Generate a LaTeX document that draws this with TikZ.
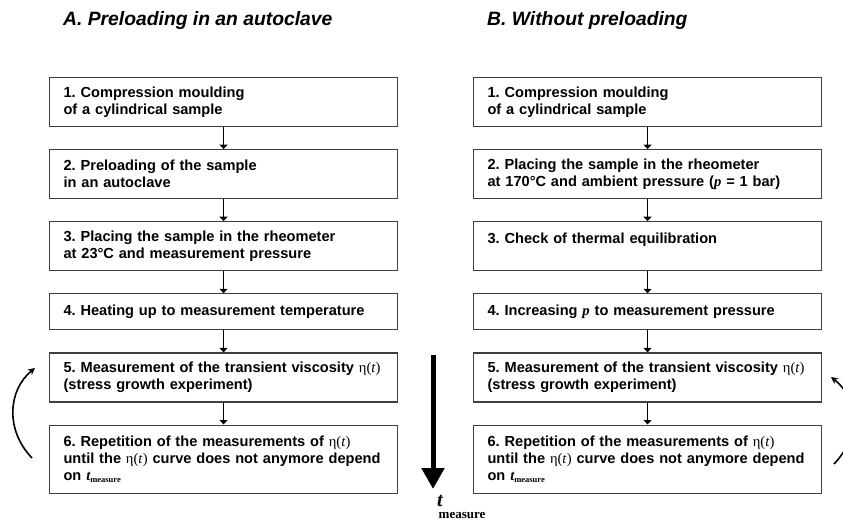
\documentclass[tikz,border=0pt]{standalone}
\usepackage{fontspec}
\setmainfont{Liberation Sans}
\newfontfamily\serifrm{Liberation Serif}
\usetikzlibrary{positioning,arrows.meta}
\frenchspacing

\newcommand{\etat}{{\serifrm\mdseries η(\textit{t})}}
\newcommand{\tmeas}{{\serifrm\bfseries\itshape t}\raisebox{-2.5pt}{\serifrm\bfseries\fontsize{8.5}{8.5}\selectfont measure}}
\newcommand{\pvar}{{\serifrm\bfseries\itshape p}}

\tikzset{
  stepbox/.style={draw=black!75, line width=1.1pt, text width=320pt,
    inner xsep=14pt, inner ysep=0pt, align=left, minimum height=49pt,
    font=\bfseries\fontsize{14.6}{17}\selectfont},
  flow/.style={-{Triangle[length=4.5pt,width=8pt]}, line width=0.9pt},
  loop/.style={-{Stealth[length=7pt,width=7pt]}, line width=1.6pt},
  colhead/.style={anchor=base west, inner sep=0pt, font=\bfseries\itshape\fontsize{19.3}{22}\selectfont},
}

\begin{document}
\begin{tikzpicture}[x=1pt, y=-1pt, node distance=22pt]
    \useasboundingbox (0,0) rectangle (843,521);

    % column titles
    \node[colhead] (headA) at (63,26) {A. Preloading in an autoclave};
    \node[colhead] (headB) at (487,26) {B. Without preloading};

    % A: preloading in an autoclave
    \node[stepbox, anchor=north west] (a1) at (49,77) {1. Compression moulding\\of a cylindrical sample};
    \node[stepbox, below=of a1] (a2) {2. Preloading of the sample\\in an autoclave};
    \node[stepbox, below=of a2] (a3) {3. Placing the sample in the rheometer\\at 23°C and measurement pressure};
    \node[stepbox, below=of a3, minimum height=36pt] (a4) {4. Heating up to measurement temperature};
    \node[stepbox, below=of a4] (a5) {\mbox{5. Measurement of the transient viscosity \etat}\\(stress growth experiment)};
    \node[stepbox, below=of a5, minimum height=68pt] (a6) {6. Repetition of the measurements of \etat\\\mbox{until the \etat{} curve does not anymore depend}\\on \tmeas};

    % B: without preloading
    \node[stepbox, anchor=north west] (b1) at (473,77) {1. Compression moulding\\of a cylindrical sample};
    \node[stepbox, below=of b1] (b2) {2. Placing the sample in the rheometer\\\mbox{at 170°C and ambient pressure (\pvar{} = 1 bar)}};
    \node[stepbox, below=of b2] (b3) {3. Check of thermal equilibration\\\mbox{}};
    \node[stepbox, below=of b3, minimum height=36pt] (b4) {4. Increasing \pvar{} to measurement pressure};
    \node[stepbox, below=of b4] (b5) {\mbox{5. Measurement of the transient viscosity \etat}\\(stress growth experiment)};
    \node[stepbox, below=of b5, minimum height=68pt] (b6) {6. Repetition of the measurements of \etat\\\mbox{until the \etat{} curve does not anymore depend}\\on \tmeas};

    % step arrows
    \draw[flow] (a1) -- (a2);
    \draw[flow] (a2) -- (a3);
    \draw[flow] (a3) -- (a4);
    \draw[flow] (a4) -- (a5);
    \draw[flow] (a5) -- (a6);
    \draw[flow] (b1) -- (b2);
    \draw[flow] (b2) -- (b3);
    \draw[flow] (b3) -- (b4);
    \draw[flow] (b4) -- (b5);
    \draw[flow] (b5) -- (b6);

    % time axis
    \coordinate (tstart) at (433,355);
    \coordinate (tend) at (433,489);
    \draw[line width=5pt, -{Triangle[length=21pt,width=22pt]}] (tstart) -- (tend);
    \node[anchor=base west, inner sep=0pt] (tlabel) at (437,506)
      {\rlap{\hspace{1.5pt}\raisebox{-12pt}{\serifrm\bfseries\fontsize{13}{13}\selectfont measure}}{\serifrm\bfseries\itshape\fontsize{20}{20}\selectfont t}};

    % repetition loops
    \coordinate (loopA1) at (32,458);
    \coordinate (loopA2) at (35,368);
    \draw[loop] (loopA1) .. controls (5,430) and (8,390) .. (loopA2);
    \coordinate (loopB1) at (834,464);
    \coordinate (loopB2) at (831,377);
    \draw[loop] (loopB1) .. controls (861,436) and (858,398) .. (loopB2);
\end{tikzpicture}
\end{document}
